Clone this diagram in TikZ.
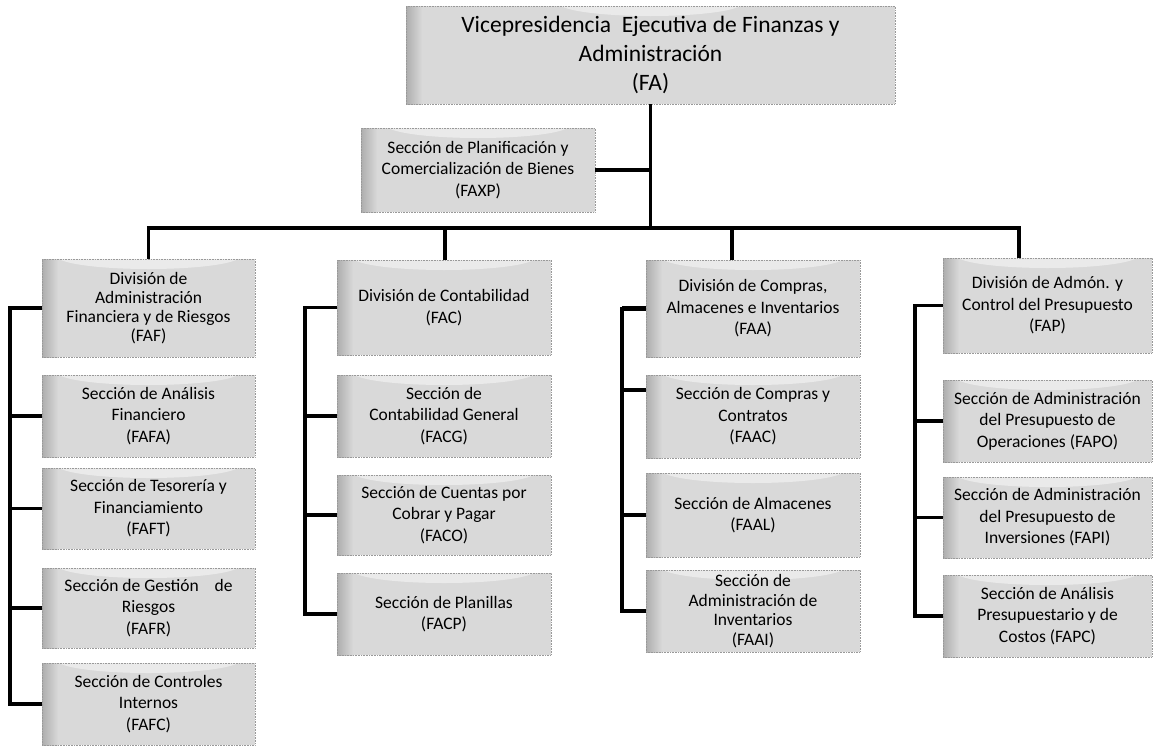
\documentclass[tikz,border=0pt]{standalone}
\usepackage{fontspec}
\setmainfont{Carlito}
\begin{document}
\begin{tikzpicture}[x=1pt,y=-1pt,
  box/.style={draw=black!40, densely dotted, line width=0.6pt,
    path picture={
      \fill[black!15] (path picture bounding box.south west) rectangle (path picture bounding box.north east);
      \fill[white, opacity=0.45] ([yshift=3pt]path picture bounding box.north) ellipse [x radius=92pt, y radius=13pt];
      \shade[left color=black!32, right color=black!15] (path picture bounding box.south west) rectangle ([xshift=16pt]path picture bounding box.north west);
    },
    align=center, font=\fontsize{17.5}{21.5}\selectfont, inner sep=0pt, text=black},
  bigbox/.style={box, font=\fontsize{23.5}{28.6}\selectfont},
  conn/.style={line width=3.2pt, black, solid}]
\useasboundingbox (0,0) rectangle (1153,747);

% top
\node[bigbox, minimum width=489pt, minimum height=98pt] (FA) at (650.5,55)
  {Vicepresidencia\hspace{0.45em}Ejecutiva de Finanzas y\\Administración\\(FA)};
\node[box, minimum width=234pt, minimum height=84pt] (FAXP) at (478,170)
  {Sección de Planificación y\\Comercialización de Bienes\\(FAXP)};

% column 1
\node[box, minimum width=213pt, minimum height=98pt, font=\fontsize{17.5}{19}\selectfont] (FAF) at (148.5,308)
  {División de\\Administración\\Financiera y de Riesgos\\(FAF)};
\node[box, minimum width=213pt, minimum height=82pt] (FAFA) at (148.5,416)
  {Sección de Análisis\\Financiero\\(FAFA)};
\node[box, minimum width=213pt, minimum height=81pt] (FAFT) at (148.5,508.5)
  {Sección de Tesorería y\\Financiamiento\\(FAFT)};
\node[box, minimum width=213pt, minimum height=80pt] (FAFR) at (148.5,608)
  {Sección de Gestión\hspace{0.9em}de\\Riesgos\\(FAFR)};
\node[box, minimum width=213pt, minimum height=82pt] (FAFC) at (148.5,704)
  {Sección de Controles\\Internos\\(FAFC)};

% column 2
\node[box, minimum width=214pt, minimum height=95pt] (FAC) at (444,307.5)
  {División de Contabilidad\\(FAC)};
\node[box, minimum width=214pt, minimum height=82pt] (FACG) at (444,416)
  {Sección de\\Contabilidad General\\(FACG)};
\node[box, minimum width=214pt, minimum height=80pt] (FACO) at (444,515)
  {Sección de Cuentas por\\Cobrar y Pagar\\(FACO)};
\node[box, minimum width=214pt, minimum height=82pt] (FACP) at (444,614)
  {Sección de Planillas\\(FACP)};

% column 3
\node[box, minimum width=214pt, minimum height=97pt] (FAA) at (753,308.5)
  {División de Compras,\\Almacenes e Inventarios\\(FAA)};
\node[box, minimum width=214pt, minimum height=83pt] (FAAC) at (753,416.5)
  {Sección de Compras y\\Contratos\\(FAAC)};
\node[box, minimum width=214pt, minimum height=84pt] (FAAL) at (753,515)
  {Sección de Almacenes\\(FAAL)};
\node[box, minimum width=214pt, minimum height=82pt, font=\fontsize{17.5}{19.5}\selectfont] (FAAI) at (753,611)
  {Sección de\\Administración de\\Inventarios\\(FAAI)};

% column 4
\node[box, minimum width=209pt, minimum height=95pt] (FAP) at (1047.5,305.5)
  {División de Admón. y\\Control del Presupuesto\\(FAP)};
\node[box, minimum width=209pt, minimum height=82pt] (FAPO) at (1047.5,421)
  {Sección de Administración\\del Presupuesto de\\Operaciones (FAPO)};
\node[box, minimum width=209pt, minimum height=81pt] (FAPI) at (1047.5,517.5)
  {Sección de Administración\\del Presupuesto de\\Inversiones (FAPI)};
\node[box, minimum width=209pt, minimum height=82pt] (FAPC) at (1047.5,616)
  {Sección de Análisis\\Presupuestario y de\\Costos (FAPC)};

% connector coordinates
\coordinate (bl) at (148.5,228);
\coordinate (br) at (1019,228);
\coordinate (d2) at (445,228);
\coordinate (d3) at (732,228);
\coordinate (s1) at (10,0);
\coordinate (s2) at (305,0);
\coordinate (s3) at (622,0);
\coordinate (s4) at (915,0);
\coordinate (t3) at (622,390);

% top connectors
\draw[conn] (FA.south) -- (FA.south |- bl);
\draw[conn] (FAXP.east) -- (FAXP.east -| FA.south);
\draw[conn] ([xshift=-1.6pt]bl) -- ([xshift=1.6pt]br);
\draw[conn] (bl) -- (bl |- FAF.north);
\draw[conn] (d2) -- (d2 |- FAC.north);
\draw[conn] (d3) -- (d3 |- FAA.north);
\draw[conn] (br) -- (br |- FAP.north);

% column 1
\draw[conn] (FAF.west) -- (FAF.west -| s1) -- (FAFC.west -| s1) -- (FAFC.west);
\draw[conn] (FAFA.west) -- (FAFA.west -| s1);
\draw[conn] (FAFT.west) -- (FAFT.west -| s1);
\draw[conn] (FAFR.west) -- (FAFR.west -| s1);

% column 2
\draw[conn] (FAC.west) -- (FAC.west -| s2) -- (FACP.west -| s2) -- (FACP.west);
\draw[conn] (FACG.west) -- (FACG.west -| s2);
\draw[conn] (FACO.west) -- (FACO.west -| s2);

% column 3
\draw[conn] (FAA.west) -- (FAA.west -| s3) -- (FAAI.west -| s3) -- (FAAI.west);
\draw[line width=4.5pt] (FAA.west) -- (FAA.west -| s3);
\draw[conn] (t3) -- (t3 -| FAAC.west);
\draw[conn] (FAAL.west) -- (FAAL.west -| s3);

% column 4
\draw[conn] (FAP.west) -- (FAP.west -| s4) -- (FAPC.west -| s4) -- (FAPC.west);
\draw[conn] (FAPO.west) -- (FAPO.west -| s4);
\draw[conn] (FAPI.west) -- (FAPI.west -| s4);
\end{tikzpicture}
\end{document}
